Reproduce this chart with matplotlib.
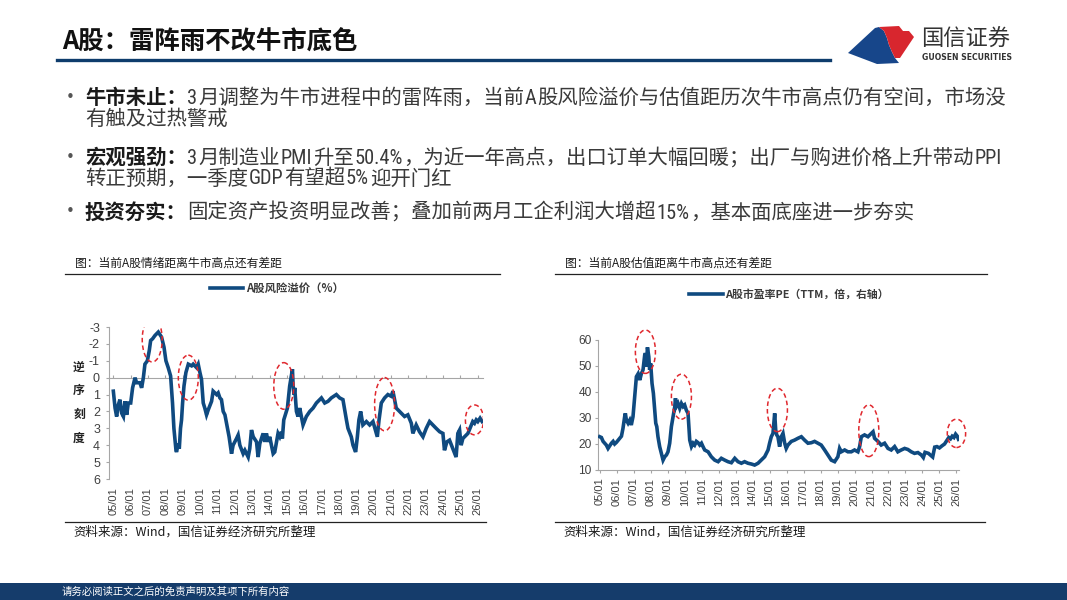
import numpy as np
import matplotlib
matplotlib.use('Agg')
import matplotlib.pyplot as plt
from matplotlib import font_manager
from matplotlib.patches import Ellipse, Polygon, Rectangle
from matplotlib.lines import Line2D

plt.rcParams['font.family'] = ['Noto Sans CJK SC', 'DejaVu Sans']
plt.rcParams['axes.unicode_minus'] = False

# ---------------- data ----------------
years = list(range(2005, 2027))
year_labels = [f"{y % 100:02d}/01" for y in years]

rp_dates = [2005.00, 2005.10, 2005.19, 2005.29, 2005.38, 2005.48, 2005.58, 2005.67, 2005.77, 2005.86,
            2006.00, 2006.11, 2006.25, 2006.34, 2006.53, 2006.63, 2006.73, 2006.82, 2006.96, 2007.07,
            2007.15, 2007.26, 2007.40, 2007.59, 2007.78, 2007.92, 2008.03, 2008.16, 2008.30, 2008.41,
            2008.49, 2008.61, 2008.64, 2008.74, 2008.80, 2008.87, 2008.93, 2008.99, 2009.07, 2009.18,
            2009.32, 2009.51, 2009.60, 2009.79, 2009.89, 2009.99, 2010.08, 2010.18, 2010.27, 2010.37,
            2010.47, 2010.66, 2010.75, 2010.95, 2011.04, 2011.14, 2011.23, 2011.33, 2011.43, 2011.58,
            2011.67, 2011.81, 2011.90, 2012.10, 2012.19, 2012.29, 2012.48, 2012.58, 2012.77, 2012.86,
            2012.96, 2013.06, 2013.25, 2013.34, 2013.44, 2013.63, 2013.73, 2013.82, 2013.92, 2014.01,
            2014.21, 2014.30, 2014.49, 2014.59, 2014.69, 2014.74, 2014.82, 2014.97, 2015.03, 2015.16,
            2015.32, 2015.36, 2015.41, 2015.45, 2015.55, 2015.64, 2015.74, 2015.93, 2016.12, 2016.32,
            2016.51, 2016.70, 2016.99, 2017.18, 2017.37, 2017.56, 2017.85, 2018.04, 2018.23, 2018.43,
            2018.52, 2018.71, 2018.81, 2018.96, 2019.06, 2019.15, 2019.25, 2019.38, 2019.58, 2019.77,
            2019.96, 2020.21, 2020.31, 2020.44, 2020.63, 2020.82, 2021.01, 2021.11, 2021.30, 2021.49,
            2021.78, 2021.97, 2022.17, 2022.26, 2022.45, 2022.64, 2022.84, 2023.03, 2023.22, 2023.41,
            2023.60, 2023.80, 2023.99, 2024.08, 2024.22, 2024.37, 2024.56, 2024.75, 2024.85, 2024.95,
            2025.04, 2025.14, 2025.33, 2025.43, 2025.71, 2025.81, 2025.91, 2026.00, 2026.13, 2026.25]
rp_values = [0.8, 1.8, 2.3, 1.6, 1.3, 2.1, 2.3, 1.4, 2.2, 1.5,
             1.5, 0.6, 0.0, 0.3, 0.3, 0.6, 0.0, -0.8, -1.0, -1.6,
             -2.2, -2.3, -2.5, -2.7, -2.4, -1.8, -1.0, -0.6, -0.1, 1.5,
             3.0, 4.3, 4.4, 3.9, 4.2, 3.0, 2.5, 1.5, 0.5, -0.3,
             -0.8, -0.7, -0.8, -0.6, -0.8, -0.3, 0.1, 1.5, 1.8, 2.2,
             1.9, 1.4, 0.8, 1.0, 0.9, 1.2, 1.3, 2.0, 2.2, 3.0,
             3.5, 4.5, 4.0, 3.6, 3.4, 4.0, 4.5, 4.3, 4.7, 4.2,
             3.1, 3.5, 3.8, 4.7, 3.9, 3.3, 3.8, 3.3, 3.8, 3.5,
             4.5, 4.4, 3.3, 3.5, 3.2, 3.6, 2.5, 2.0, 1.8, 0.5,
             -0.5, 0.5, 1.0, 0.6, 2.0, 2.3, 1.8, 2.8, 2.3, 2.0,
             1.8, 1.5, 1.2, 1.5, 1.4, 1.2, 1.0, 1.2, 1.3, 2.5,
             3.0, 3.5, 4.0, 4.4, 3.5, 2.5, 2.0, 2.8, 2.6, 2.8,
             2.6, 3.5, 2.5, 1.5, 1.2, 1.0, 1.1, 0.8, 1.8, 2.0,
             2.3, 2.2, 2.7, 3.3, 2.8, 3.2, 3.5, 3.0, 2.6, 2.8,
             3.0, 3.2, 3.3, 4.3, 3.8, 3.7, 4.2, 4.7, 3.3, 3.1,
             4.0, 3.6, 3.4, 3.3, 2.6, 2.7, 2.5, 2.6, 2.4, 2.6]

pe_dates = [2005.00, 2005.10, 2005.20, 2005.39, 2005.49, 2005.69, 2005.79, 2005.88, 2005.98, 2006.18,
            2006.28, 2006.37, 2006.47, 2006.51, 2006.57, 2006.67, 2006.77, 2006.86, 2006.96, 2007.06,
            2007.16, 2007.26, 2007.36, 2007.45, 2007.55, 2007.65, 2007.69, 2007.75, 2007.81, 2007.89,
            2007.94, 2008.00, 2008.08, 2008.16, 2008.24, 2008.30, 2008.36, 2008.43, 2008.53, 2008.63,
            2008.73, 2008.83, 2008.93, 2009.02, 2009.12, 2009.22, 2009.32, 2009.42, 2009.46, 2009.51,
            2009.61, 2009.71, 2009.81, 2009.91, 2010.00, 2010.10, 2010.20, 2010.30, 2010.40, 2010.50,
            2010.59, 2010.69, 2010.79, 2010.89, 2010.99, 2011.08, 2011.18, 2011.38, 2011.57, 2011.77,
            2011.97, 2012.16, 2012.36, 2012.55, 2012.75, 2012.95, 2013.14, 2013.34, 2013.53, 2013.73,
            2013.93, 2014.12, 2014.32, 2014.51, 2014.71, 2014.91, 2015.00, 2015.10, 2015.20, 2015.30,
            2015.36, 2015.42, 2015.49, 2015.59, 2015.69, 2015.79, 2015.89, 2015.98, 2016.08, 2016.28,
            2016.47, 2016.67, 2016.87, 2017.06, 2017.26, 2017.46, 2017.65, 2017.85, 2018.04, 2018.24,
            2018.43, 2018.63, 2018.83, 2019.02, 2019.12, 2019.22, 2019.42, 2019.61, 2019.81, 2020.00,
            2020.20, 2020.30, 2020.40, 2020.59, 2020.79, 2020.99, 2021.09, 2021.18, 2021.38, 2021.57,
            2021.77, 2021.97, 2022.16, 2022.36, 2022.55, 2022.75, 2022.95, 2023.14, 2023.34, 2023.53,
            2023.73, 2023.93, 2024.05, 2024.15, 2024.35, 2024.60, 2024.72, 2024.85, 2025.00, 2025.15,
            2025.30, 2025.45, 2025.55, 2025.65, 2025.75, 2025.85, 2025.95, 2026.05, 2026.12]
pe_values = [22.8, 22.5, 21.0, 19.6, 18.3, 20.3, 21.0, 20.0, 20.6, 22.2,
             23.0, 26.0, 30.5, 31.8, 29.2, 28.0, 29.2, 27.3, 30.5, 38.0,
             45.9, 47.0, 44.6, 47.0, 48.5, 54.2, 54.9, 49.7, 57.2, 53.6,
             48.5, 51.0, 43.3, 39.5, 33.0, 28.0, 26.7, 22.8, 19.0, 16.4,
             13.8, 15.1, 15.8, 17.0, 20.3, 26.7, 30.5, 34.4, 37.6, 34.4,
             35.6, 33.7, 35.6, 34.4, 35.0, 33.0, 31.8, 21.5, 19.0, 20.3,
             19.6, 21.0, 20.5, 19.6, 20.3, 19.0, 17.7, 17.0, 15.1, 13.8,
             13.2, 14.5, 13.8, 13.2, 12.8, 14.5, 13.2, 12.6, 13.2, 12.6,
             12.3, 11.9, 12.6, 13.8, 15.1, 17.7, 20.3, 22.8, 24.1, 31.8,
             25.4, 23.5, 22.8, 19.0, 22.8, 24.1, 20.3, 18.3, 19.6, 21.0,
             21.5, 22.2, 22.8, 21.5, 20.3, 20.5, 21.0, 20.3, 19.6, 17.7,
             15.8, 13.8, 13.2, 15.1, 18.3, 17.0, 17.7, 17.0, 17.0, 17.7,
             17.0, 19.0, 22.8, 23.5, 22.8, 24.1, 24.7, 22.2, 21.0, 19.6,
             20.3, 18.3, 17.7, 19.0, 17.0, 17.7, 18.3, 17.9, 17.0, 16.4,
             16.7, 15.8, 14.8, 16.8, 16.4, 15.0, 18.8, 19.0, 18.5, 19.3,
             20.0, 21.5, 22.5, 22.0, 23.0, 22.5, 23.8, 23.0, 21.8]

# annotation ellipses: (centre x, centre y, width, height)
rp_circles = [(2007.24, -2.26, 1.15, 2.66), (2009.32, 0.0, 1.15, 2.66), (2014.82, 0.49, 1.15, 2.76),
              (2020.63, 1.57, 1.15, 3.15), (2025.81, 2.5, 1.05, 1.77)]
pe_circles = [(2007.69, 55.5, 1.18, 16.7), (2009.81, 38.2, 1.18, 17.3), (2015.46, 33.1, 1.18, 16.7),
              (2020.84, 25.1, 1.18, 19.9), (2026.0, 24.1, 1.08, 10.9)]

title = "A股：雷阵雨不改牛市底色"
bullets = [
    [[("牛市未止：", True), ("3月调整为牛市进程中的雷阵雨，当前A股风险溢价与估值距历次牛市高点仍有空间，市场没", False)],
     [("有触及过热警戒", False)]],
    [[("宏观强劲：", True), ("3月制造业PMI升至50.4%，为近一年高点，出口订单大幅回暖；出厂与购进价格上升带动PPI", False)],
     [("转正预期，一季度GDP有望超5%迎开门红", False)]],
    [[("投资夯实：", True), ("固定资产投资明显改善；叠加前两月工企利润大增超15%，基本面底座进一步夯实", False)]],
]
caption_left = "图：当前A股情绪距离牛市高点还有差距"
caption_right = "图：当前A股估值距离牛市高点还有差距"
source = "资料来源：Wind，国信证券经济研究所整理"
legend_left = "A股风险溢价（%）"
legend_right = "A股市盈率PE（TTM，倍，右轴）"
footer = "请务必阅读正文之后的免责声明及其项下所有内容"

# ---------------- figure ----------------
W, H = 1067, 600
fig = plt.figure(figsize=(W / 100, H / 100), dpi=100)
fig.patch.set_facecolor('white')


def fx(x):
    return x / W


def fy(y):
    return 1 - y / H


NAVY = '#0e3c6c'
LINE = '#0f4a80'
RED = '#e0282e'
GRAY = '#a6a6a6'
TXT = '#3a3a3a'
TICKFONT = ['Liberation Sans', 'DejaVu Sans']

# narrow Latin face for the half-width characters of the body text
LATIN_FAMILY, LATIN_SCALE = ['Liberation Sans'], 0.9
for cand in ['Liberation Sans Narrow', 'Roboto Condensed', 'Open Sans Condensed', 'Arial Narrow']:
    try:
        font_manager.findfont(font_manager.FontProperties(family=cand), fallback_to_default=False)
        LATIN_FAMILY, LATIN_SCALE = [cand], 1.0
        break
    except Exception:
        pass

renderer = fig.canvas.get_renderer()

# title + underline
fig.text(fx(62), fy(41), title, fontsize=18.3, fontweight='bold', color='#111111', va='center', ha='left')
fig.add_artist(Line2D([fx(57), fx(830)], [fy(60), fy(60)], color=NAVY, lw=2.4))

# logo
s_curve = [(879, 27), (884, 31), (887, 38), (889, 45), (892, 52), (895, 58), (899, 63)]
blue_pts = [(848, 53), (875, 28)] + s_curve + [(877, 64)]
red_pts = [(879, 27), (899, 26), (903, 31), (909, 31), (914, 37), (900, 58)] + s_curve[::-1][1:]
fig.add_artist(Polygon([(fx(a), fy(b)) for a, b in blue_pts], closed=True, facecolor='#17468a',
                       edgecolor='none', transform=fig.transFigure))
fig.add_artist(Polygon([(fx(a), fy(b)) for a, b in red_pts], closed=True, facecolor='#d8262e',
                       edgecolor='none', transform=fig.transFigure))
fig.text(fx(921), fy(39), "国信证券", fontsize=16, color='#333333', va='center', ha='left')
fig.text(fx(922), fy(58), "GUOSEN SECURITIES", fontsize=5.6, fontweight='bold', color='#333333',
         va='center', ha='left', family=['DejaVu Sans'])

BODY_SIZE = 14.7


def split_runs(s):
    runs, cur, cur_ascii = [], "", None
    for ch in s:
        is_ascii = ord(ch) < 128
        if cur and is_ascii != cur_ascii:
            runs.append((cur, cur_ascii))
            cur = ""
        cur += ch
        cur_ascii = is_ascii
    if cur:
        runs.append((cur, cur_ascii))
    return runs


def run_line(x, y, parts):
    base = y + 6.5  # baseline in px (top-origin)
    for txt, bold in parts:
        for seg, is_ascii in split_runs(txt):
            kw = dict(fontweight='bold' if bold else 'normal', color='#1a1a1a' if bold else TXT,
                      va='baseline', ha='left')
            if is_ascii:
                t = fig.text(fx(x + 0.5), fy(base), seg, fontsize=BODY_SIZE * LATIN_SCALE,
                             family=LATIN_FAMILY, **kw)
                x = t.get_window_extent(renderer).x1 + 1.0
            else:
                t = fig.text(fx(x), fy(base), seg, fontsize=BODY_SIZE, **kw)
                x = t.get_window_extent(renderer).x1


bullet_y = [[97, 118], [157, 178], [212]]
for lines, ys in zip(bullets, bullet_y):
    fig.text(fx(66), fy(ys[0]), "•", fontsize=11, color='#555555', va='center', ha='left',
             family=['DejaVu Sans'])
    for parts, y in zip(lines, ys):
        run_line(85, y, parts)

# captions and rules
for x0, x1, cap in [(65, 500, caption_left), (555, 987, caption_right)]:
    fig.text(fx(x0 + 10), fy(263), cap, fontsize=8.5, color='#1a1a1a', va='center', ha='left')
    fig.add_artist(Line2D([fx(x0), fx(x1)], [fy(274), fy(274)], color='#222222', lw=0.9))
for x0, x1 in [(65, 486), (555, 985)]:
    fig.add_artist(Line2D([fx(x0), fx(x1)], [fy(521.5), fy(521.5)], color='#222222', lw=0.9))
    fig.text(fx(x0 + 8), fy(532), source, fontsize=9, color='#1a1a1a', va='center', ha='left')

# footer
fig.add_artist(Rectangle((0, 0), 1, 17 / H, transform=fig.transFigure, facecolor='#153c6b', edgecolor='none'))
fig.text(fx(62), fy(592), footer, fontsize=7.5, color='white', va='center', ha='left')


def style_ticklabels(ax):
    for lbl in ax.get_xticklabels() + ax.get_yticklabels():
        lbl.set_fontfamily(TICKFONT)


# ---------------- left chart ----------------
axL = fig.add_axes([fx(109), fy(479), fx(483) - fx(109), fy(327) - fy(479)])
axL.plot(rp_dates, rp_values, color=LINE, lw=2.6, zorder=3, label=legend_left, solid_joinstyle='miter')
axL.set_xlim(2004.75, 2026.3)
axL.set_ylim(6, -3)
axL.set_yticks(range(-3, 7))
for sp in ['top', 'right']:
    axL.spines[sp].set_visible(False)
axL.spines['bottom'].set_position(('data', 0))
axL.spines['bottom'].set_color(GRAY)
axL.spines['left'].set_color(GRAY)
axL.spines['bottom'].set_zorder(1)
axL.set_xticks(years)
axL.tick_params(axis='x', direction='in', length=2.5, color=GRAY, labelbottom=False)
axL.tick_params(axis='y', direction='out', length=2.5, color=GRAY, labelsize=9, labelcolor='#404040', pad=4)
secL = axL.secondary_xaxis('bottom')
secL.set_xticks(years, year_labels)
secL.tick_params(length=0, labelsize=8, labelrotation=90, labelcolor='#404040', pad=6)
secL.spines['bottom'].set_visible(False)
style_ticklabels(axL)
style_ticklabels(secL)
for cx, cy, w, h in rp_circles:
    axL.add_patch(Ellipse((cx, cy), w, h, fill=False, edgecolor=RED, lw=1.1, ls=(0, (3, 2)), zorder=4))
axL.legend(loc='center', bbox_to_anchor=(fx(277), fy(288)), bbox_transform=fig.transFigure, frameon=False,
           prop={'size': 8.2, 'weight': 'bold'}, handlelength=2.9, handletextpad=0.2, labelcolor='#3a3a3a')
for i, ch in enumerate("逆序刻度"):
    fig.text(fx(79), fy(367 + 23.7 * i), ch, fontsize=8.5, fontweight='bold', color='#222222',
             va='center', ha='center')

# ---------------- right chart ----------------
axR = fig.add_axes([fx(598), fy(470), fx(959) - fx(598), fy(340) - fy(470)])
axR.plot(pe_dates, pe_values, color=LINE, lw=2.6, zorder=3, label=legend_right, solid_joinstyle='miter')
axR.set_xlim(2004.9, 2026.15)
axR.set_ylim(10, 60)
axR.set_yticks(range(10, 61, 10))
for sp in ['top', 'right']:
    axR.spines[sp].set_visible(False)
axR.spines['bottom'].set_color(GRAY)
axR.spines['left'].set_color(GRAY)
axR.set_xticks(years, year_labels)
axR.tick_params(axis='x', direction='out', length=2.5, color=GRAY, labelsize=8, labelrotation=90,
                labelcolor='#404040', pad=3)
axR.tick_params(axis='y', direction='out', length=2.5, color=GRAY, labelsize=8.6, labelcolor='#404040', pad=2)
style_ticklabels(axR)
for cx, cy, w, h in pe_circles:
    axR.add_patch(Ellipse((cx, cy), w, h, fill=False, edgecolor=RED, lw=1.1, ls=(0, (3, 2)), zorder=4,
                          clip_on=False))
axR.legend(loc='center', bbox_to_anchor=(fx(789), fy(294)), bbox_transform=fig.transFigure, frameon=False,
           prop={'size': 7.8, 'weight': 'bold'}, handlelength=3.1, handletextpad=0.2, labelcolor='#3a3a3a')

fig.savefig('out.png', dpi=100)
